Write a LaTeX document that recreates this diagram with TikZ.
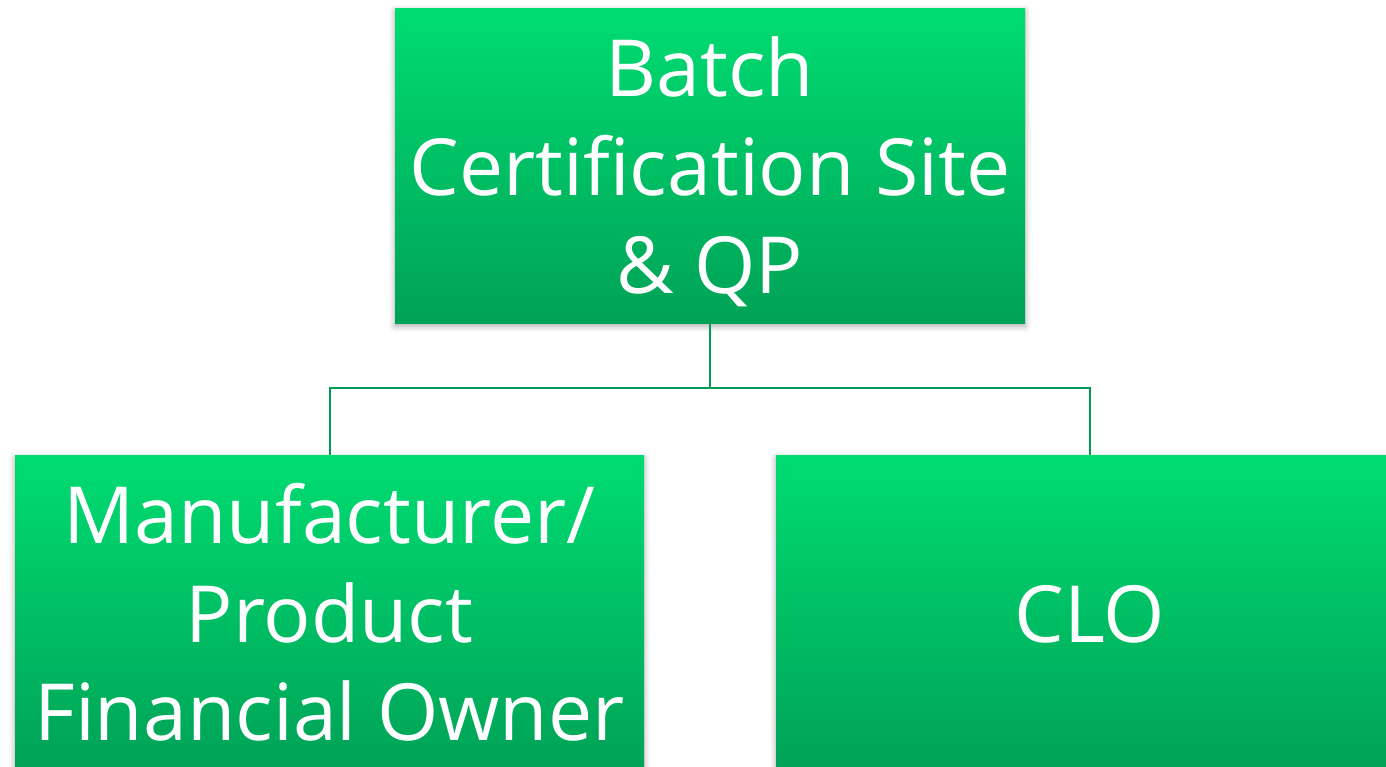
\documentclass[tikz,border=0pt]{standalone}
\usepackage{fontspec}
\setmainfont{Open Sans}
\usetikzlibrary{shadows.blur}
\definecolor{boxtop}{RGB}{0,220,114}
\definecolor{boxbot}{RGB}{0,162,86}
\definecolor{linkgreen}{RGB}{0,155,85}
\begin{document}
\begin{tikzpicture}[x=0.5pt,y=-0.5pt,
  orgbox/.style={minimum width=315pt, minimum height=157.5pt, inner sep=0pt,
    top color=boxtop, bottom color=boxbot,
    blur shadow={shadow xshift=0pt, shadow yshift=-1.5pt, shadow blur radius=3pt, shadow opacity=35},
    text=white, align=center, text height=130pt, text depth=2pt,
    font=\fontsize{39.4}{49.25}\selectfont},
  link/.style={draw=linkgreen, line width=1pt}]
\useasboundingbox (0,0) rectangle (1386,766);
% hierarchy boxes
\node[orgbox] (top) at (710,165.5) {Batch\\Certification Site\\\& QP};
\node[orgbox, minimum width=314.5pt] (left) at (329.5,612.5) {Manufacturer/\\Product\\Financial Owner};
\node[orgbox, minimum width=314pt, text height=31.5pt] (right) at (1090,612.5) {CLO};
% tree connectors
\coordinate (bus) at (710,388);
\draw[link] (top.south) -- (bus);
\draw[link] (bus) -| (left.north);
\draw[link] (bus) -| (right.north);
\end{tikzpicture}
\end{document}
